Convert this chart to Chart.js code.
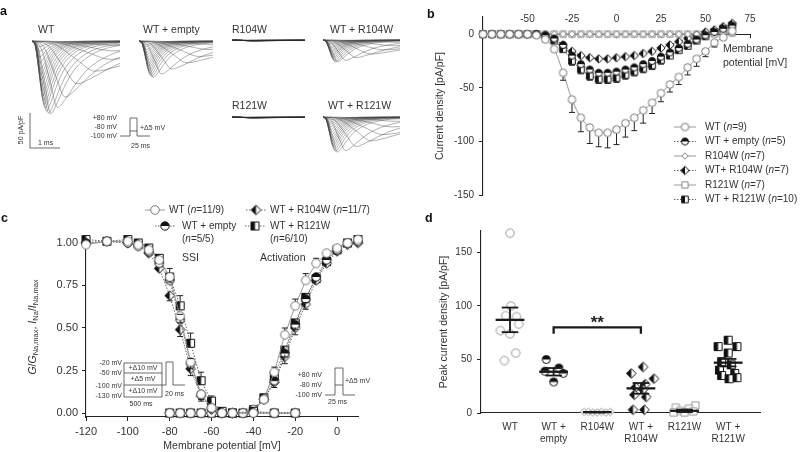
<!DOCTYPE html>
<html>
<head>
<meta charset="utf-8">
<title>Nav channel figure</title>
<script src="https://cdn.jsdelivr.net/npm/chart.js@4.4.1/dist/chart.umd.min.js"></script>
<style>
  body { margin: 0; background: #fff; }
  #fig { position: relative; width: 800px; height: 452px; overflow: hidden; }
  #fig canvas { position: absolute; }
  #deco { position: absolute; left: 0; top: 0; }
  #deco text { font-family: "Liberation Sans", Arial, sans-serif; fill: #333; dominant-baseline: middle; }
  #deco .s { font-size: 7px; }
  #deco .m { font-size: 10.5px; }
  #deco .p { font-size: 12.5px; font-weight: bold; fill: #111; }
  #deco path { stroke: #444; fill: none; stroke-width: 0.8; }
</style>
</head>
<body>
<div id="fig">
  <canvas id="trWT" width="88" height="79" style="left:32px;top:39px"></canvas>
  <canvas id="trEmpty" width="74" height="79" style="left:139px;top:39px"></canvas>
  <canvas id="trR104" width="73" height="79" style="left:232px;top:38px"></canvas>
  <canvas id="trHet104" width="77" height="79" style="left:323px;top:38px"></canvas>
  <canvas id="trR121" width="73" height="79" style="left:232px;top:115px"></canvas>
  <canvas id="trHet121" width="77" height="79" style="left:323px;top:115px"></canvas>
  <canvas id="chartB" width="400" height="230" style="left:400px;top:0"></canvas>
  <canvas id="chartC" width="400" height="252" style="left:0;top:200px"></canvas>
  <canvas id="chartD" width="400" height="232" style="left:400px;top:220px"></canvas>

  <svg id="deco" width="800" height="452">
    <!-- panel letters -->
    <text class="p" x="0" y="12">a</text>
    <text class="p" x="427" y="15">b</text>
    <text class="p" x="1" y="219">c</text>
    <text class="p" x="425" y="219">d</text>

    <!-- panel a titles -->
    <text class="m" x="38" y="30">WT</text>
    <text class="m" x="143" y="30">WT + empty</text>
    <text class="m" x="232" y="30">R104W</text>
    <text class="m" x="330" y="30">WT + R104W</text>
    <text class="m" x="232" y="106">R121W</text>
    <text class="m" x="328" y="106">WT + R121W</text>

    <!-- panel a scale bar -->
    <path d="M30 113V148H60"/>
    <text class="s" text-anchor="middle" transform="translate(21 130) rotate(-90)">50 pA/pF</text>
    <text class="s" x="38" y="143">1 ms</text>

    <!-- panel a protocol -->
    <path d="M120 136H130V118H137V136H150M130 131H137"/>
    <text class="s" x="117" y="118" text-anchor="end">+80 mV</text>
    <text class="s" x="117" y="127" text-anchor="end">-80 mV</text>
    <text class="s" x="117" y="136" text-anchor="end">-100 mV</text>
    <text class="s" x="140" y="128">+Δ5 mV</text>
    <text class="s" x="131" y="146">25 ms</text>

    <!-- panel b axis note -->
    <text class="m" x="723" y="49">Membrane</text>
    <text class="m" x="723" y="63">potential [mV]</text>

    <!-- panel c notes -->
    <text class="m" x="182" y="258">SSI</text>
    <text class="m" x="260" y="258">Activation</text>

    <!-- panel c SSI protocol -->
    <path d="M124 363H162V397H124ZM124 373H162M124 385H166V362H173V385H185"/>
    <text class="s" x="122" y="363" text-anchor="end">-20 mV</text>
    <text class="s" x="122" y="373" text-anchor="end">-50 mV</text>
    <text class="s" x="122" y="386" text-anchor="end">-100 mV</text>
    <text class="s" x="122" y="396" text-anchor="end">-130 mV</text>
    <text class="s" x="143" y="368" text-anchor="middle">+Δ10 mV</text>
    <text class="s" x="143" y="379" text-anchor="middle">+Δ5 mV</text>
    <text class="s" x="143" y="391" text-anchor="middle">+Δ10 mV</text>
    <text class="s" x="165" y="394">20 ms</text>
    <text class="s" x="141" y="404" text-anchor="middle">500 ms</text>

    <!-- panel c activation protocol -->
    <path d="M325 395H335V368H343V395H355M335 385H343"/>
    <text class="s" x="322" y="375" text-anchor="end">+80 mV</text>
    <text class="s" x="322" y="385" text-anchor="end">-80 mV</text>
    <text class="s" x="322" y="395" text-anchor="end">-100 mV</text>
    <text class="s" x="345" y="381">+Δ5 mV</text>
    <text class="s" x="328" y="402">25 ms</text>
  </svg>
</div>

<script>
// ===============================
// DATA
// ===============================

// a: normalised waveform, time in units of time-to-peak, current in units of peak
const shapeT = [0, 0.35, 0.7, 1, 1.3, 1.7, 2.2, 3, 4, 5.5, 8, 12];
const shapeI = [0, 0.1, 0.6, 1, 0.88, 0.65, 0.42, 0.22, 0.1, 0.04, 0.015, 0];

// a: peak amplitude (pA/pF) and time to peak (ms) of each sweep
const ampWT = [6, 14, 26, 43, 61, 80, 95, 104, 103, 100, 96, 91, 85, 79, 72, 64, 56, 48, 40, 31, 23, 15, 8];
const tpWT = [2.8, 2.7, 2.6, 2.1, 1.5, 1.1, 0.85, 0.62, 0.55, 0.48, 0.43, 0.4, 0.37, 0.35, 0.33, 0.31, 0.3, 0.29, 0.28, 0.27, 0.26, 0.25, 0.25];
const ampEmpty = [5, 12, 22, 31, 40, 47, 52, 51, 49, 46, 43, 40, 36, 32, 28, 24, 20, 16, 12, 8, 5];
const ampHet104 = [3, 8, 14, 20, 25, 29, 31, 31, 30, 28, 26, 24, 22, 20, 17, 15, 12, 10, 7, 5, 3];
const ampHet121 = [6, 14, 25, 34, 42, 48, 50, 49, 47, 44, 41, 38, 34, 30, 26, 22, 18, 14, 10, 7, 4];
const tpHet = [2.4, 2.3, 2.0, 1.6, 1.1, 0.75, 0.48, 0.42, 0.38, 0.35, 0.33, 0.31, 0.3, 0.29, 0.28, 0.27, 0.26, 0.25, 0.25, 0.24, 0.24];
const ampR104 = [0.2, 0.4, 0.6, 0.8, 1.0, 1.2, 1.4, 1.6];
const ampR121 = [0.2, 0.4, 0.6, 0.8, 1.0, 1.2, 1.4, 1.6];
const tpFlat = [0.4, 0.45, 0.5, 0.55, 0.6, 0.65, 0.7, 0.75];

// b: current-voltage
const vB = [-75, -70, -65, -60, -55, -50, -45, -40, -35, -30, -25, -20, -15, -10, -5, 0, 5, 10, 15, 20, 25, 30, 35, 40, 45, 50, 55, 60, 65];
const iWT = [0, 0, 0, 0, 0, 0, -1, -5, -14, -36, -61, -78, -87, -92, -92, -89, -83, -78, -71, -64, -55, -47, -40, -31, -23, -16, -8, -3, 3];
const eWT = [0, 0, 0, 0, 0, 0, 1, 1, 2, 7, 12, 13, 15, 13, 14, 14, 13, 12, 12, 10, 8, 7, 7, 7, 7, 5, 4, 2, 1];
const iEmpty = [0, 0, 0, 0, 0, 0, 0, -1, -4, -10, -20, -28, -33, -36, -36, -35, -33, -31, -28, -25, -21, -17, -13, -9, -5, -1, 2, 5, 8];
const eEmpty = [0, 0, 0, 0, 0, 0, 0, 1, 1, 2, 3, 3, 3, 3, 3, 3, 3, 3, 3, 3, 3, 3, 2, 2, 2, 2, 2, 1, 1];
const iR104 = [0, 0, 0, 0, 0, 0, 0, 0, 0, 0, 0, 0, 0, 0, 0, 0, 0, 0, 0, 0, 0, 0, 0, 0, 0, 0, 1, 1, 1];
const iHet104 = [0, 0, 0, 0, 0, 0, 0, -1, -5, -10, -16, -20, -22, -23, -23, -22, -21, -20, -18, -16, -13, -10, -7, -4, -1, 2, 4, 7, 10];
const eHet104 = [0, 0, 0, 0, 0, 0, 0, 1, 1, 2, 2, 2, 2, 2, 2, 2, 2, 2, 2, 2, 2, 2, 2, 2, 2, 1, 1, 1, 1];
const iR121 = [0, 0, 0, 0, 0, 0, 0, 0, 0, 0, 0, 0, 0, 0, 0, 0, 0, 0, 0, 0, 0, 0, 0, 0, 0, 0, 0, 1, 1];
const iHet121 = [0, 0, 0, 0, 0, 0, 0, -2, -6, -14, -25, -33, -39, -42, -42, -41, -38, -35, -32, -29, -24, -20, -15, -11, -6, -2, 2, 5, 8];
const eHet121 = [0, 0, 0, 0, 0, 0, 0, 1, 1, 2, 4, 4, 4, 4, 4, 4, 4, 4, 4, 4, 4, 3, 3, 3, 3, 2, 2, 2, 2];
const tickBx = [-50, -25, 0, 25, 50, 75];
const tickBy = [-150, -100, -50, 0];
const legendB = ['WT (n=9)', 'WT + empty (n=5)', 'R104W (n=7)', 'WT+ R104W (n=7)', 'R121W (n=7)', 'WT + R121W (n=10)'];

// c: steady-state inactivation and activation
const vSSI = [-120, -110, -100, -95, -90, -85, -80, -75, -70, -65, -60, -55, -50, -40, -30, -20];
const ssiWT = [0.99, 1.01, 1.01, 0.99, 0.96, 0.9, 0.8, 0.57, 0.3, 0.11, 0.03, 0, 0, 0, 0, 0];
const ssiEmpty = [1.0, 1.01, 1.0, 0.98, 0.95, 0.88, 0.78, 0.55, 0.29, 0.11, 0.03, 0, 0, 0, 0, 0];
const ssiHet104 = [1.0, 1.01, 1.0, 0.99, 0.94, 0.85, 0.69, 0.49, 0.26, 0.1, 0.02, 0, 0, 0, 0, 0];
const ssiHet121 = [1.02, 1.01, 1.02, 1.0, 0.97, 0.91, 0.8, 0.63, 0.41, 0.19, 0.07, 0.01, 0, 0.01, 0, 0];
const eSsiWT = [0, 0, 0, 0, 0.01, 0.02, 0.03, 0.04, 0.04, 0.03, 0.01, 0, 0, 0, 0, 0];
const eSsiEmpty = [0, 0, 0, 0, 0.01, 0.01, 0.02, 0.03, 0.03, 0.02, 0.01, 0, 0, 0, 0, 0];
const eSsiHet104 = [0, 0, 0, 0, 0.01, 0.02, 0.03, 0.04, 0.04, 0.03, 0.01, 0, 0, 0, 0, 0];
const eSsiHet121 = [0, 0, 0, 0, 0.01, 0.02, 0.05, 0.06, 0.06, 0.05, 0.03, 0.01, 0, 0, 0, 0];
const vAct = [-80, -75, -70, -65, -60, -55, -50, -45, -40, -35, -30, -25, -20, -15, -10, -5, 0, 5, 10];
const actWT = [0, 0, 0, 0, 0, 0, 0, 0, 0.02, 0.08, 0.24, 0.46, 0.63, 0.78, 0.88, 0.94, 0.97, 1.0, 1.02];
const actEmpty = [0, 0, 0, 0, 0, 0, 0, 0, 0.01, 0.08, 0.19, 0.35, 0.52, 0.67, 0.8, 0.9, 0.96, 1.0, 1.01];
const actHet104 = [0, 0, 0, 0, 0, 0, 0, 0, 0.01, 0.08, 0.18, 0.33, 0.5, 0.64, 0.78, 0.88, 0.95, 0.99, 1.0];
const actHet121 = [0, 0, 0, 0, 0, 0, 0, 0, 0.02, 0.09, 0.22, 0.37, 0.53, 0.68, 0.79, 0.89, 0.96, 1.0, 1.02];
const eActWT = [0, 0, 0, 0, 0, 0, 0, 0, 0.01, 0.02, 0.03, 0.04, 0.04, 0.04, 0.03, 0.02, 0.01, 0.01, 0];
const eActHet = [0, 0, 0, 0, 0, 0, 0, 0, 0.01, 0.02, 0.03, 0.04, 0.04, 0.03, 0.02, 0.02, 0.01, 0.01, 0];
const tickCx = [-120, -100, -80, -60, -40, -20, 0];
const tickCy = [0, 0.25, 0.5, 0.75, 1.0];
const legendC = ['WT (n=11/9)', 'WT + empty', 'WT + R104W (n=11/7)', 'WT + R121W'];
const legendC2 = ['(n=5/5)', '(n=6/10)'];

// d: peak current density per cell, with horizontal jitter of each marker
const groupsD = ['WT', ['WT +', 'empty'], 'R104W', ['WT +', 'R104W'], 'R121W', ['WT +', 'R121W']];
const dWT = [168, 100, 91, 90, 83, 77, 74, 56, 49];
const jWT = [0, 0.02, -0.1, 0.15, 0.2, -0.22, 0, 0.13, -0.13];
const dEmpty = [50, 42, 39, 37, 29];
const jEmpty = [-0.17, 0.12, -0.2, 0.22, 0];
const dR104 = [1, 1, 0.5, 0.5, 1, 0.5, 1];
const jR104 = [-0.3, -0.2, -0.1, 0, 0.1, 0.2, 0.3];
const dHet104 = [43, 37, 32, 27, 24, 22, 17, 15, 3, 3];
const jHet104 = [0.05, -0.22, 0.3, 0.1, -0.12, 0.05, -0.15, 0.12, -0.18, 0.08];
const dR121 = [7, 5, 4, 2, 1.5, 0.5, 0.5];
const jR121 = [0.25, -0.2, 0.1, -0.1, 0.2, -0.25, 0];
const dHet121 = [68, 62, 62, 56, 48, 45, 40, 37, 35, 33, 32];
const jHet121 = [0, -0.23, 0.2, 0, -0.15, 0.07, -0.2, 0.15, -0.15, 0.2, 0.02];
const meansD = [87, 38.5, 0.8, 23, 2, 47];
const semD = [11.5, 3.5, 0.3, 5, 1.2, 3.5];
const tickDy = [0, 50, 100, 150];
const bracketX = [1, 3];
const bracketY = [74, 80];

// ===============================
// GENERAL
// ===============================
const FONT = '"Liberation Sans", Arial, sans-serif';
Chart.defaults.font.family = FONT;
Chart.defaults.font.size = 10;
Chart.defaults.color = '#333';
Chart.defaults.animation = false;
Chart.defaults.responsive = false;
Chart.defaults.events = [];
Chart.defaults.plugins.legend.display = false;
Chart.defaults.plugins.tooltip.enabled = false;

const pts = (xs, ys) => xs.map((x, i) => ({ x: x, y: ys[i] }));
const jit = (c, offs, vals) => vals.map((v, k) => ({ x: c + offs[k], y: v }));

// marker images (open / half filled)
function marker(shape, half, r, edge) {
  const s = Math.ceil(r * 2 + 3);
  const c = document.createElement('canvas');
  c.width = s; c.height = s;
  const g = c.getContext('2d');
  const m = s / 2;
  const path = () => {
    g.beginPath();
    if (shape === 'circle') g.arc(m, m, r, 0, Math.PI * 2);
    else if (shape === 'square') g.rect(m - r, m - r, 2 * r, 2 * r);
    else { g.moveTo(m, m - r); g.lineTo(m + r, m); g.lineTo(m, m + r); g.lineTo(m - r, m); g.closePath(); }
  };
  path(); g.fillStyle = '#fff'; g.fill();
  if (half) {
    g.save(); path(); g.clip();
    g.fillStyle = '#111';
    if (half === 'top') g.fillRect(0, 0, s, m); else g.fillRect(0, 0, m, s);
    g.restore();
  }
  path(); g.lineWidth = 1; g.strokeStyle = edge || (half ? '#111' : '#888'); g.stroke();
  return c;
}

const mk = {
  openCircle: marker('circle', '', 3.8, '#777'),
  halfCircle: marker('circle', 'top', 3.5),
  openDiamond: marker('diamond', '', 3.2),
  halfDiamond: marker('diamond', 'left', 4.2),
  openSquare: marker('square', '', 3.1),
  halfSquare: marker('square', 'left', 3.3),
  cOpenCircle: marker('circle', '', 4.3, '#777'),
  cHalfCircle: marker('circle', 'top', 4.2),
  cHalfDiamond: marker('diamond', 'left', 4.8),
  cHalfSquare: marker('square', 'left', 4),
  dOpenCircle: marker('circle', '', 4.2, '#999'),
  dHalfCircle: marker('circle', 'top', 4),
  dOpenDiamond: marker('diamond', '', 3.8, '#999'),
  dHalfDiamond: marker('diamond', 'left', 4.8),
  dOpenSquare: marker('square', '', 3.6, '#999'),
  dHalfSquare: marker('square', 'left', 4)
};

// text with italic "n"
function drawRich(ctx, str, x, y, size) {
  ctx.save();
  ctx.fillStyle = '#333';
  ctx.textBaseline = 'middle';
  ctx.textAlign = 'left';
  str.split(/(n)(?==)/).forEach((part, k) => {
    ctx.font = (k % 2 ? 'italic ' : '') + size + 'px ' + FONT;
    ctx.fillText(part, x, y);
    x += ctx.measureText(part).width;
  });
  ctx.restore();
}

function legendMark(ctx, ds, x1, x2, y) {
  ctx.save();
  ctx.strokeStyle = ds.borderColor;
  ctx.lineWidth = 0.9;
  ctx.setLineDash(ds.borderDash || []);
  ctx.beginPath(); ctx.moveTo(x1, y); ctx.lineTo(x2, y); ctx.stroke();
  ctx.restore();
  Chart.helpers.drawPoint(ctx, { pointStyle: ds.pointStyle, rotation: 0, radius: 4, borderWidth: 0 }, (x1 + x2) / 2, y);
}

// SEM bars, one direction only
const errorBars = {
  id: 'errorBars',
  afterDatasetsDraw(chart) {
    const ctx = chart.ctx, xs = chart.scales.x, ys = chart.scales.y;
    chart.data.datasets.forEach(ds => {
      if (!ds.err) return;
      ctx.save();
      ctx.strokeStyle = '#222';
      ctx.lineWidth = 1;
      ds.data.forEach((p, i) => {
        const e = ds.err[i];
        if (!e) return;
        const px = xs.getPixelForValue(p.x);
        const py = ys.getPixelForValue(p.y);
        const pe = ys.getPixelForValue(p.y + ds.errDir * e);
        if (Math.abs(pe - py) <= ds.pointRadius) return;
        const sg = Math.sign(pe - py);
        ctx.beginPath();
        ctx.moveTo(px, py + sg * ds.pointRadius);
        ctx.lineTo(px, pe);
        ctx.moveTo(px - 3, pe);
        ctx.lineTo(px + 3, pe);
        ctx.stroke();
      });
      ctx.restore();
    });
  }
};

const axisLine = { color: '#222', width: 1.1 };

// ===============================
// PANEL A
// ===============================
function traceChart(id, amps, tps, tMax, color) {
  new Chart(document.getElementById(id), {
    type: 'line',
    data: {
      datasets: amps.map((a, k) => ({
        data: shapeT.map((s, j) => ({ x: s * tps[k], y: -a * shapeI[j] })),
        borderColor: color,
        borderWidth: 0.7,
        pointRadius: 0,
        cubicInterpolationMode: 'monotone'
      }))
    },
    options: {
      layout: { padding: 0 },
      scales: {
        x: { type: 'linear', display: false, min: 0, max: tMax },
        y: { display: false, min: -110, max: 3 }
      }
    }
  });
}

traceChart('trWT', ampWT, tpWT, 88 / 30, 'rgba(70,70,70,0.6)');
traceChart('trEmpty', ampEmpty, tpHet, 74 / 30, 'rgba(70,70,70,0.6)');
traceChart('trR104', ampR104, tpFlat, 73 / 30, 'rgba(40,40,40,0.8)');
traceChart('trHet104', ampHet104, tpHet, 77 / 30, 'rgba(70,70,70,0.6)');
traceChart('trR121', ampR121, tpFlat, 73 / 30, 'rgba(40,40,40,0.8)');
traceChart('trHet121', ampHet121, tpHet, 77 / 30, 'rgba(70,70,70,0.6)');

// ===============================
// PANEL B
// ===============================
const legendBPlugin = {
  id: 'legendB',
  afterDraw(chart) {
    chart.data.datasets.forEach((ds, i) => {
      const y = 127 + 14.5 * i;
      legendMark(chart.ctx, ds, 274, 296, y);
      drawRich(chart.ctx, legendB[i], 305, y, 10);
    });
  }
};

const solid = { borderColor: '#8c8c8c', borderWidth: 0.9 };
const dotted = { borderColor: '#555', borderWidth: 0.9, borderDash: [1.5, 1.5] };

new Chart(document.getElementById('chartB'), {
  type: 'line',
  data: {
    datasets: [
      { ...solid, data: pts(vB, iWT), cubicInterpolationMode: 'monotone', pointStyle: mk.openCircle, pointRadius: 4, err: eWT, errDir: -1 },
      { ...dotted, data: pts(vB, iEmpty), pointStyle: mk.halfCircle, pointRadius: 3.5, err: eEmpty, errDir: 1 },
      { ...solid, data: pts(vB, iR104), pointStyle: mk.openDiamond, pointRadius: 3 },
      { ...dotted, data: pts(vB, iHet104), pointStyle: mk.halfDiamond, pointRadius: 4, err: eHet104, errDir: 1 },
      { ...solid, data: pts(vB, iR121), pointStyle: mk.openSquare, pointRadius: 3 },
      { ...dotted, data: pts(vB, iHet121), pointStyle: mk.halfSquare, pointRadius: 3.5, err: eHet121, errDir: -1 }
    ].map(d => ({ ...d, clip: false }))
  },
  options: {
    layout: { padding: { top: 17, right: 50, bottom: 35, left: 0 } },
    scales: {
      x: {
        type: 'linear', position: { y: 0 }, min: -75, max: 75,
        afterBuildTicks: s => { s.ticks = tickBx.map(v => ({ value: v })); },
        border: axisLine,
        grid: { drawOnChartArea: false, color: '#222', tickLength: 3 },
        ticks: { padding: -24, font: { size: 10 } }
      },
      y: {
        min: -150, max: 16,
        afterBuildTicks: s => { s.ticks = tickBy.map(v => ({ value: v })); },
        afterFit: s => { s.width = 83; },
        border: axisLine,
        grid: { drawOnChartArea: false, color: '#222', tickLength: 4 },
        ticks: { padding: 5, font: { size: 10 } },
        title: { display: true, text: 'Current density [pA/pF]', font: { size: 10.5 }, padding: { top: 34, bottom: 0 } }
      }
    }
  },
  plugins: [errorBars, legendBPlugin]
});

// ===============================
// PANEL C
// ===============================
const yTitleC = {
  id: 'yTitleC',
  afterDraw(chart) {
    const ctx = chart.ctx;
    const parts = [['G', 'i'], ['/', ''], ['G', 'i'], ['Na,max', 's'], [', ', ''], ['I', 'i'], ['Na', 's'], ['/', ''], ['I', 'i'], ['Na,max', 's']];
    const fontFor = st => (st === 'i' ? 'italic 10.5px ' : st === 's' ? '7.5px ' : '10.5px ') + FONT;
    ctx.save();
    let total = 0;
    parts.forEach(p => { ctx.font = fontFor(p[1]); total += ctx.measureText(p[0]).width; });
    ctx.translate(33, (chart.chartArea.top + chart.chartArea.bottom) / 2);
    ctx.rotate(-Math.PI / 2);
    ctx.fillStyle = '#333';
    ctx.textBaseline = 'middle';
    let x = -total / 2;
    parts.forEach(p => {
      ctx.font = fontFor(p[1]);
      ctx.fillText(p[0], x, p[1] === 's' ? 3 : 0);
      x += ctx.measureText(p[0]).width;
    });
    ctx.restore();
  }
};

const keyC = {
  id: 'keyC',
  afterDraw(chart) {
    const ds = chart.data.datasets;
    const ctx = chart.ctx;
    // [line start, line end, y, dataset index, text x]
    const spots = [[145, 165, 10, 0, 169], [155, 175, 26, 1, 182], [246, 266, 10, 2, 270], [245, 265, 26, 3, 270]];
    spots.forEach((s, i) => {
      legendMark(ctx, ds[s[3]], s[0], s[1], s[2]);
      drawRich(ctx, legendC[i], s[4], s[2], 10);
    });
    drawRich(ctx, legendC2[0], 182, 39, 10);
    drawRich(ctx, legendC2[1], 270, 39, 10);
  }
};

const cStyles = [
  { ...solid, pointStyle: mk.cOpenCircle },
  { ...dotted, pointStyle: mk.cHalfCircle },
  { ...dotted, pointStyle: mk.cHalfDiamond },
  { ...dotted, pointStyle: mk.cHalfSquare }
];

new Chart(document.getElementById('chartC'), {
  type: 'line',
  data: {
    datasets: [
      { ...cStyles[0], data: pts(vSSI, ssiWT), err: eSsiWT, errDir: -1 },
      { ...cStyles[1], data: pts(vSSI, ssiEmpty), err: eSsiEmpty, errDir: 1 },
      { ...cStyles[2], data: pts(vSSI, ssiHet104), err: eSsiHet104, errDir: -1 },
      { ...cStyles[3], data: pts(vSSI, ssiHet121), err: eSsiHet121, errDir: 1 },
      { ...cStyles[0], data: pts(vAct, actWT), err: eActWT, errDir: 1 },
      { ...cStyles[1], data: pts(vAct, actEmpty) },
      { ...cStyles[2], data: pts(vAct, actHet104), err: eActHet, errDir: -1 },
      { ...cStyles[3], data: pts(vAct, actHet121), err: eActHet, errDir: -1 }
    ].map(d => ({ ...d, pointRadius: 4.5, clip: false }))
  },
  options: {
    layout: { padding: { top: 37, right: 42, bottom: 0, left: 0 } },
    scales: {
      x: {
        type: 'linear', min: -120, max: 10,
        afterBuildTicks: s => { s.ticks = tickCx.map(v => ({ value: v })); },
        afterFit: s => { s.height = 35; },
        border: axisLine,
        grid: { drawOnChartArea: false, color: '#222', tickLength: 4 },
        ticks: { padding: 4, font: { size: 11 } },
        title: { display: true, text: 'Membrane potential [mV]', font: { size: 10.5 }, padding: { top: 0, bottom: 0 } }
      },
      y: {
        min: -0.0235, max: 1.035,
        afterBuildTicks: s => { s.ticks = tickCy.map(v => ({ value: v })); },
        afterFit: s => { s.width = 86; },
        border: axisLine,
        grid: { drawOnChartArea: false, color: '#222', tickLength: 4 },
        ticks: { padding: 4, font: { size: 11 }, callback: v => v.toFixed(2) }
      }
    }
  },
  plugins: [errorBars, yTitleC, keyC]
});

// ===============================
// PANEL D
// ===============================
const meansPlugin = {
  id: 'meansD',
  afterDatasetsDraw(chart) {
    const { ctx, scales: { x, y } } = chart;
    const seg = (x1, y1, x2, y2) => { ctx.beginPath(); ctx.moveTo(x1, y1); ctx.lineTo(x2, y2); ctx.stroke(); };
    ctx.save();
    ctx.strokeStyle = '#1a1a1a';
    meansD.forEach((m, i) => {
      const py = y.getPixelForValue(m);
      const px = x.getPixelForValue(i);
      ctx.lineWidth = 2.3;
      seg(x.getPixelForValue(i - 0.33), py, x.getPixelForValue(i + 0.33), py);
      ctx.lineWidth = 1.8;
      const lo = y.getPixelForValue(m - semD[i]);
      const hi = y.getPixelForValue(m + semD[i]);
      seg(px, lo, px, hi);
      seg(x.getPixelForValue(i - 0.19), lo, x.getPixelForValue(i + 0.19), lo);
      seg(x.getPixelForValue(i - 0.19), hi, x.getPixelForValue(i + 0.19), hi);
    });
    // significance bracket
    const bx1 = x.getPixelForValue(bracketX[0]);
    const bx2 = x.getPixelForValue(bracketX[1]);
    const byLo = y.getPixelForValue(bracketY[0]);
    const byHi = y.getPixelForValue(bracketY[1]);
    ctx.lineWidth = 2.3;
    ctx.beginPath();
    ctx.moveTo(bx1, byLo); ctx.lineTo(bx1, byHi); ctx.lineTo(bx2, byHi); ctx.lineTo(bx2, byLo);
    ctx.stroke();
    ctx.fillStyle = '#222';
    ctx.font = 'bold 17px ' + FONT;
    ctx.textAlign = 'center';
    ctx.textBaseline = 'alphabetic';
    ctx.fillText('**', (bx1 + bx2) / 2, byHi + 1);
    ctx.restore();
  }
};

new Chart(document.getElementById('chartD'), {
  type: 'scatter',
  data: {
    datasets: [
      { data: jit(0, jWT, dWT), pointStyle: mk.dOpenCircle },
      { data: jit(1, jEmpty, dEmpty), pointStyle: mk.dHalfCircle },
      { data: jit(2, jR104, dR104), pointStyle: mk.dOpenDiamond },
      { data: jit(3, jHet104, dHet104), pointStyle: mk.dHalfDiamond },
      { data: jit(4, jR121, dR121), pointStyle: mk.dOpenSquare },
      { data: jit(5, jHet121, dHet121), pointStyle: mk.dHalfSquare }
    ].map(d => ({ ...d, pointRadius: 4, clip: false }))
  },
  options: {
    layout: { padding: { top: 10, right: 40, bottom: 0, left: 0 } },
    scales: {
      x: {
        type: 'linear', min: -0.665, max: 5.73,
        afterBuildTicks: s => { s.ticks = groupsD.map((g, i) => ({ value: i })); },
        afterFit: s => { s.height = 39; },
        border: axisLine,
        grid: { drawOnChartArea: false, drawTicks: false, color: '#222' },
        ticks: { padding: 8, font: { size: 10 }, callback: v => groupsD[v] }
      },
      y: {
        min: 0, max: 170,
        afterBuildTicks: s => { s.ticks = tickDy.map(v => ({ value: v })); },
        afterFit: s => { s.width = 81; },
        border: axisLine,
        grid: { drawOnChartArea: false, color: '#222', tickLength: 4 },
        ticks: { padding: 5, font: { size: 10 } },
        title: { display: true, text: 'Peak current density [pA/pF]', font: { size: 10.5 }, padding: { top: 38, bottom: 0 } }
      }
    }
  },
  plugins: [meansPlugin]
});
</script>
</body>
</html>
